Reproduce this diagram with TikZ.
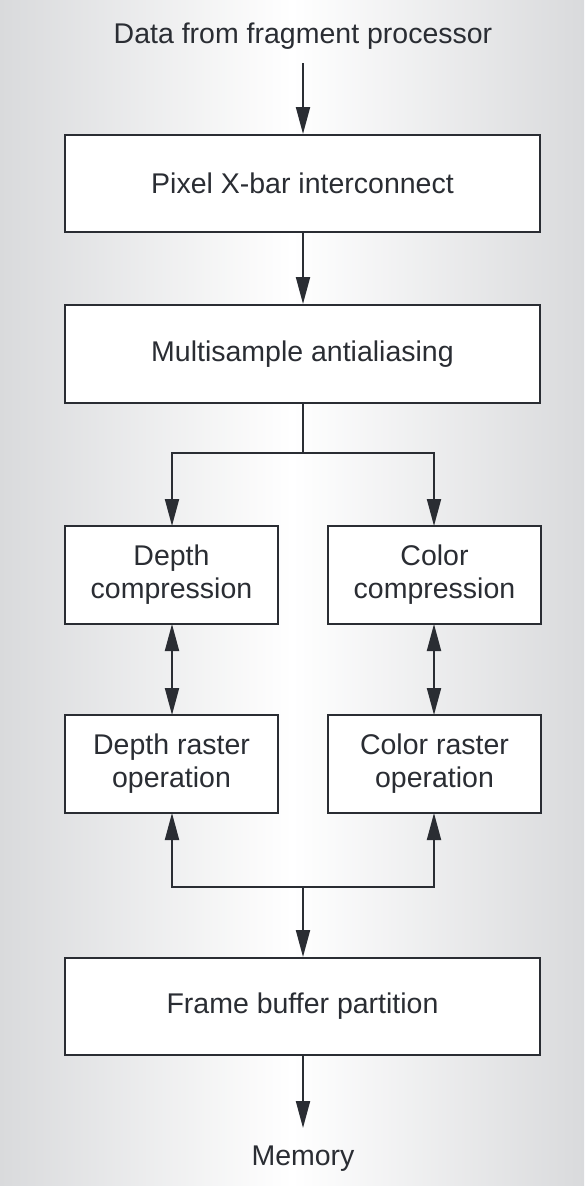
\documentclass[tikz,border=0pt]{standalone}
\usepackage{fontspec}
\setmainfont{Liberation Sans}
\usetikzlibrary{arrows.meta}
\definecolor{ink}{HTML}{2A2D33}
\definecolor{edge}{HTML}{D9DADC}
\begin{document}
\begin{tikzpicture}[x=1pt,y=-1pt,
  box/.style={draw=ink,line width=2pt,fill=white,text=ink,align=center,inner sep=0pt,
    font=\fontsize{28.5}{33}\selectfont},
  lbl/.style={text=ink,inner sep=0pt,font=\fontsize{28.5}{33}\selectfont},
  conn/.style={draw=ink,line width=2pt},
  tip/.style={-{Triangle[length=27pt,width=14pt]}},
  dtip/.style={{Triangle[length=27pt,width=14pt]}-{Triangle[length=27pt,width=14pt]}}]
\shade[left color=edge,right color=edge,middle color=white] (0,0) rectangle (584,1186);
\useasboundingbox (0,0) rectangle (584,1186);
\node[lbl] (src) at (303,36) {Data from fragment processor};
\coordinate (srcend) at (303,63);
\node[box,minimum width=475pt,minimum height=97pt] (xbar) at (302.5,183.5) {Pixel X-bar interconnect};
\node[box,minimum width=475pt,minimum height=98pt] (msaa) at (302.5,354) {Multisample antialiasing};
\node[box,minimum width=213pt,minimum height=98pt] (dc) at (171.5,575) {Depth\\compression};
\node[box,minimum width=213pt,minimum height=98pt] (cc) at (434.5,575) {Color\\compression};
\node[box,minimum width=213pt,minimum height=98pt] (dr) at (171.5,764) {Depth raster\\operation};
\node[box,minimum width=213pt,minimum height=98pt] (cr) at (434.5,764) {Color raster\\operation};
\node[box,minimum width=475pt,minimum height=97pt] (fb) at (302.5,1006.5) {Frame buffer partition};
\node[lbl] (mem) at (303,1159) {Memory};
\coordinate (memend) at (303,1128);
\coordinate (split) at (303,453);
\coordinate (join) at (303,887);
\draw[conn,tip] (srcend) -- (srcend |- xbar.north);
\draw[conn,tip] (srcend |- xbar.south) -- (srcend |- msaa.north);
\draw[conn] (split |- msaa.south) -- (split);
\draw[conn,tip] (split) -| (172,526);
\draw[conn,tip] (split) -| (434,526);
\draw[conn,dtip] (172,624) -- (172,715);
\draw[conn,dtip] (434,624) -- (434,715);
\draw[conn,tip] (join) -| (172,813);
\draw[conn,tip] (join) -| (434,813);
\draw[conn,tip] (join) -- (join |- fb.north);
\draw[conn,tip] (join |- fb.south) -- (memend);
\end{tikzpicture}
\end{document}
